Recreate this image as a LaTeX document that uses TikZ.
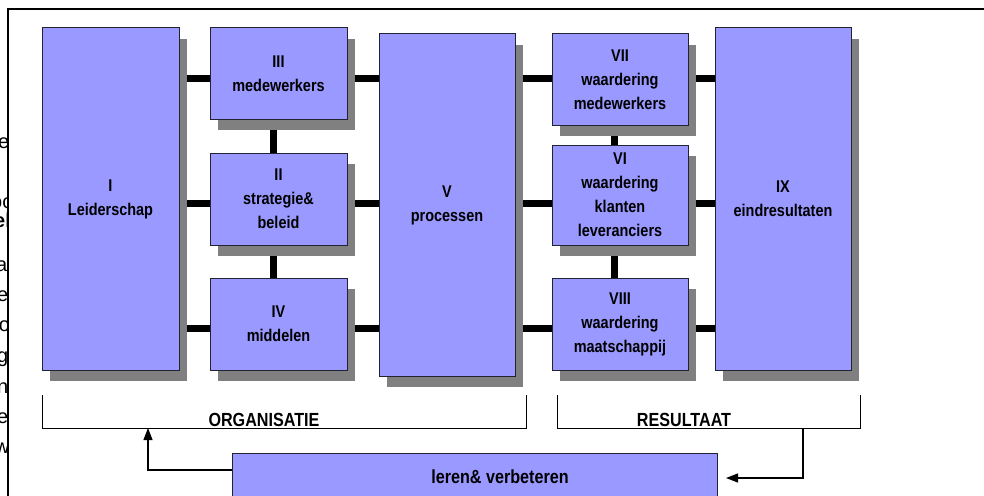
\documentclass[tikz,border=0pt]{standalone}
\usepackage{fontspec}
\setmainfont{Liberation Sans}[FakeStretch=0.85]
\newfontfamily\bgfont{Liberation Sans}
\usetikzlibrary{shadows,arrows.meta,backgrounds}
\definecolor{boxfill}{HTML}{9999FF}
\definecolor{shade}{HTML}{808080}
\definecolor{boxline}{HTML}{222233}
\tikzset{
  box/.style={draw=boxline, line width=1pt, fill=boxfill, align=center, inner sep=0pt,
    font=\fontsize{17}{24}\selectfont\bfseries,
    drop shadow={shadow xshift=8pt, shadow yshift=-11pt, fill=shade, opacity=1}},
  conn/.style={line width=7pt, black},
  bracket/.style={line width=1pt, black},
  fb/.style={line width=1.1pt, -{Triangle[length=12pt,width=9pt]}},
  lbl/.style={font=\fontsize{19}{20}\selectfont\bfseries, anchor=base, inner sep=0pt},
  frag/.style={font=\bgfont\fontsize{20}{20}\selectfont, inner sep=0pt, anchor=base west},
}
\begin{document}
\begin{tikzpicture}[x=1pt,y=-1pt]
\useasboundingbox (0,0) rectangle (984,495);
% frame
\draw[line width=2pt] (8,496) -- (8,9) -- (985,9);
% clipped text fragments on the left (cut by the frame, as in the reference)
\begin{scope}
  \clip (0,0) rectangle (7,495);
  \node[frag] (f1) at (-2,148) {e};
  \node[frag] (f2) at (-9,208) {oc};
  \node[frag,font=\bgfont\fontsize{20}{20}\selectfont\bfseries] (f3) at (-6,227) {el};
  \node[frag] (f4) at (-4,271) {a};
  \node[frag] (f5) at (-3,301) {e};
  \node[frag] (f6) at (-7,331) {fo};
  \node[frag] (f7) at (-3,362) {g};
  \node[frag] (f8) at (-3,393) {n};
  \node[frag] (f9) at (-3,423) {e};
  \node[frag] (f10) at (-5,453) {w};
\end{scope}
% boxes
\node[box, minimum width=137pt, minimum height=342pt] (I) at (110.5,199) {I\\Leiderschap};
\node[box, minimum width=137pt, minimum height=91pt] (III) at (278.5,73.5) {III\\medewerkers};
\node[box, minimum width=137pt, minimum height=92pt] (II) at (278.5,199) {II\\strategie\&\\beleid};
\node[box, minimum width=137pt, minimum height=92pt] (IV) at (278.5,324) {IV\\middelen};
\node[box, minimum width=136pt, minimum height=342pt] (V) at (447,205) {V\\processen};
\node[box, minimum width=136pt, minimum height=91pt] (VII) at (620,79.5) {VII\\waardering\\medewerkers};
\node[box, minimum width=136pt, minimum height=100pt] (VI) at (620,195) {VI\\waardering\\klanten\\leveranciers};
\node[box, minimum width=136pt, minimum height=92pt] (VIII) at (620,324) {VIII\\waardering\\maatschappij};
\node[box, minimum width=136pt, minimum height=342pt] (IX) at (783,199) {IX\\eindresultaten};
% connectors
\coordinate (r1) at (0,78);
\coordinate (r2) at (0,203);
\coordinate (r3) at (0,328);
\coordinate (v1) at (273,0);
\coordinate (v2) at (614,0);
\begin{scope}[on background layer]
  \draw[conn] (I.east|-r1) -- (III.west|-r1);
  \draw[conn] (III.east|-r1) -- (V.west|-r1);
  \draw[conn] (V.east|-r1) -- (VII.west|-r1);
  \draw[conn] (VII.east|-r1) -- (IX.west|-r1);
  \draw[conn] (I.east|-r2) -- (II.west|-r2);
  \draw[conn] (II.east|-r2) -- (V.west|-r2);
  \draw[conn] (V.east|-r2) -- (VI.west|-r2);
  \draw[conn] (VI.east|-r2) -- (IX.west|-r2);
  \draw[conn] (I.east|-r3) -- (IV.west|-r3);
  \draw[conn] (IV.east|-r3) -- (V.west|-r3);
  \draw[conn] (V.east|-r3) -- (VIII.west|-r3);
  \draw[conn] (VIII.east|-r3) -- (IX.west|-r3);
  \draw[conn] (III.south-|v1) -- (II.north-|v1);
  \draw[conn] (II.south-|v1) -- (IV.north-|v1);
  \draw[conn] (VII.south-|v2) -- (VI.north-|v2);
  \draw[conn] (VI.south-|v2) -- (VIII.north-|v2);
\end{scope}
% brackets
\coordinate (yB) at (0,428);
\coordinate (o1) at (42,395);
\coordinate (o2) at (526,395);
\coordinate (s1) at (557,395);
\coordinate (s2) at (860,395);
\draw[bracket] (o1) -- (o1|-yB) -- (o2|-yB) -- (o2);
\draw[bracket] (s1) -- (s1|-yB) -- (s2|-yB) -- (s2);
\node[lbl] (org) at (264,426) {ORGANISATIE};
\node[lbl] (res) at (684,426) {RESULTAAT};
% learning box
\node[draw=boxline, line width=1pt, fill=boxfill, minimum width=485pt, minimum height=60pt, inner sep=0pt] (leren) at (474.5,483) {};
\node[lbl] (lerentxt) at (500,483) {leren\& verbeteren};
% feedback arrows
\coordinate (yL) at (0,470);
\coordinate (aL) at (148,428);
\coordinate (bR) at (803,428);
\coordinate (tR) at (726,478);
\draw[fb] (leren.west|-yL) -| (aL);
\draw[fb] (bR) |- (tR);
\end{tikzpicture}
\end{document}
